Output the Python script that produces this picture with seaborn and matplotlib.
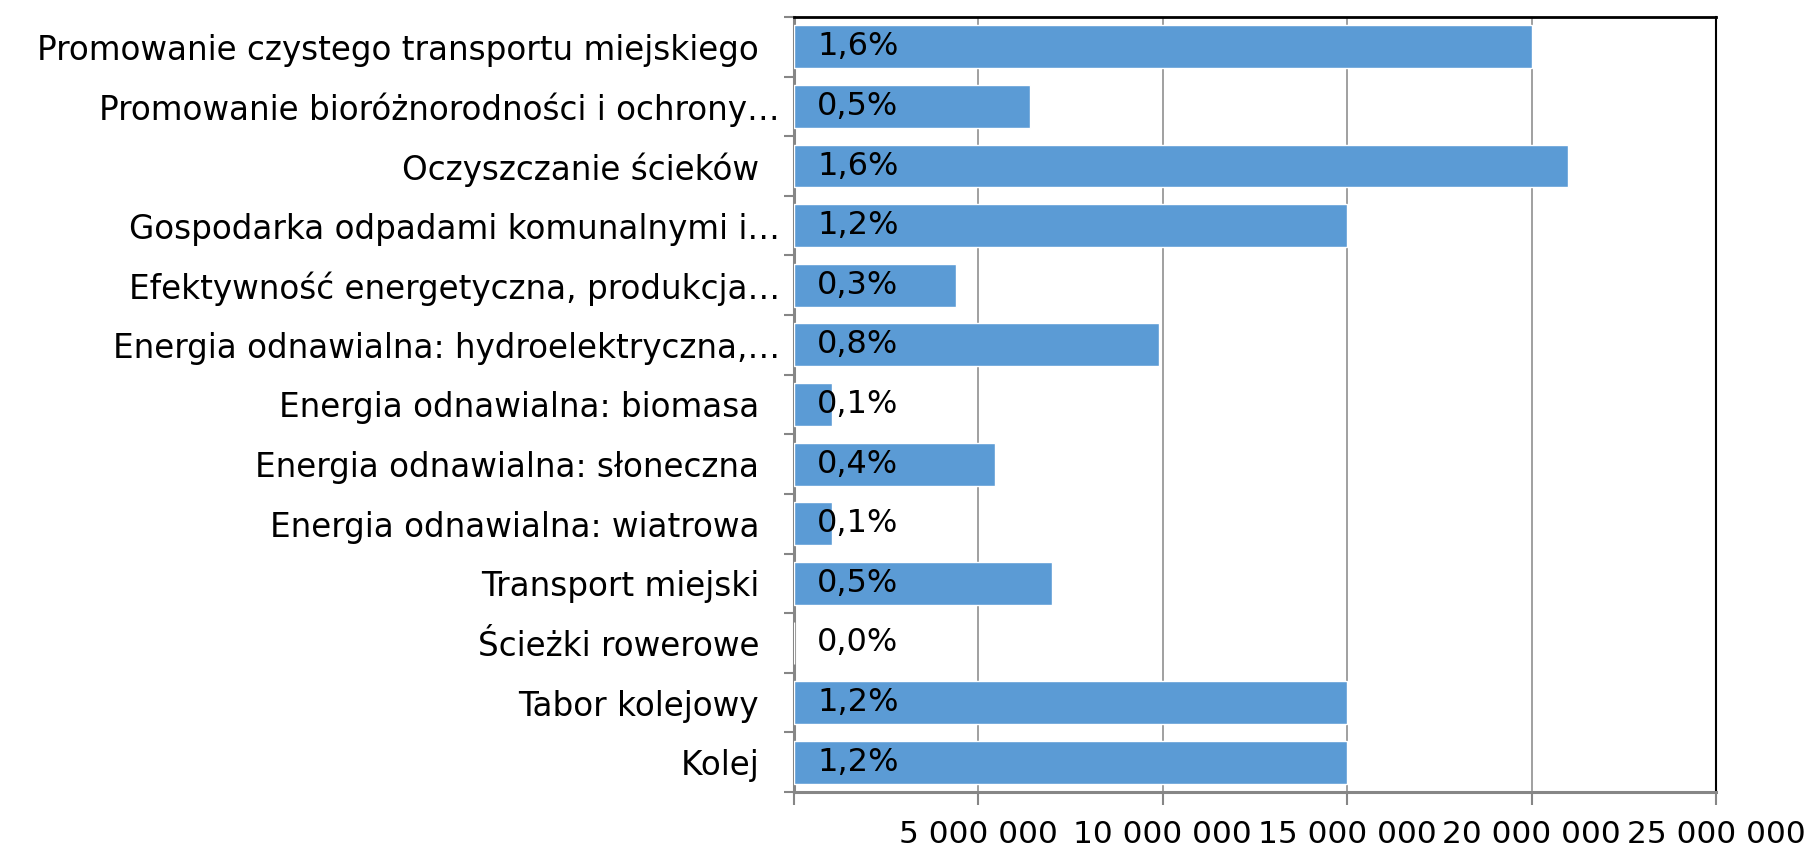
import matplotlib
matplotlib.use('Agg')
import matplotlib.pyplot as plt
import matplotlib.ticker as mticker
import seaborn as sns

# Data
categories = [
    'Promowanie czystego transportu miejskiego',
    'Promowanie bioróżnorodności i ochrony…',
    'Oczyszczanie ścieków',
    'Gospodarka odpadami komunalnymi i…',
    'Efektywność energetyczna, produkcja…',
    'Energia odnawialna: hydroelektryczna,…',
    'Energia odnawialna: biomasa',
    'Energia odnawialna: słoneczna',
    'Energia odnawialna: wiatrowa',
    'Transport miejski',
    'Ścieżki rowerowe',
    'Tabor kolejowy',
    'Kolej',
]
amounts = [20000000, 6400000, 21000000, 15000000, 4400000, 9900000,
           1050000, 5450000, 1050000, 7000000, 0, 15000000, 15000000]
shares = ['1,6%', '0,5%', '1,6%', '1,2%', '0,3%', '0,8%',
          '0,1%', '0,4%', '0,1%', '0,5%', '0,0%', '1,2%', '1,2%']

sns.set_style('white')
plt.rcParams['font.family'] = ['DejaVu Sans']
plt.rcParams['text.color'] = 'black'
plt.rcParams['xtick.labelcolor'] = 'black'
plt.rcParams['ytick.labelcolor'] = 'black'

fig = plt.figure(figsize=(18.12, 8.48), dpi=100)
ax = fig.add_axes([0.438, 0.066, 0.509, 0.914])

sns.barplot(x=amounts, y=categories, color='#5B9BD5', saturation=1,
            width=0.72, orient='h', ax=ax, zorder=3)

ax.set_xlim(0, 25000000)
ax.set_xticks(range(0, 25000001, 5000000))
ax.xaxis.set_major_formatter(mticker.FuncFormatter(
    lambda v, p: '' if v == 0 else f'{int(v):,}'.replace(',', ' ')))
ax.grid(axis='x', color='#868686', linewidth=1.1, zorder=0)
ax.set_axisbelow(True)

# category labels, Excel-like trailing space on untruncated ones
ax.set_yticks(range(len(categories)))
ax.set_yticklabels([c if c.endswith('…') else c + '  ' for c in categories])
ax.set_yticks([i - 0.5 for i in range(len(categories) + 1)], minor=True)
ax.tick_params(axis='y', which='major', length=0, pad=10, labelsize=23.5)
ax.tick_params(axis='y', which='minor', length=7, width=1.5, color='#868686', left=True)
ax.tick_params(axis='x', which='major', length=9, width=1.5, color='#868686',
               bottom=True, pad=11, labelsize=22.5)
ax.set_xlabel('')
ax.set_ylabel('')

for i, s in enumerate(shares):
    ax.annotate(s, xy=(0, i), xytext=(17, 0), textcoords='offset points',
                ha='left', va='center', fontsize=23, color='black', zorder=5)

for side in ['left', 'bottom']:
    ax.spines[side].set_color('#868686')
    ax.spines[side].set_linewidth(2.2)
ax.spines['top'].set_color('black')
ax.spines['top'].set_linewidth(2)
ax.spines['right'].set_color('black')
ax.spines['right'].set_linewidth(1.5)

fig.savefig('out.png', dpi=100)
